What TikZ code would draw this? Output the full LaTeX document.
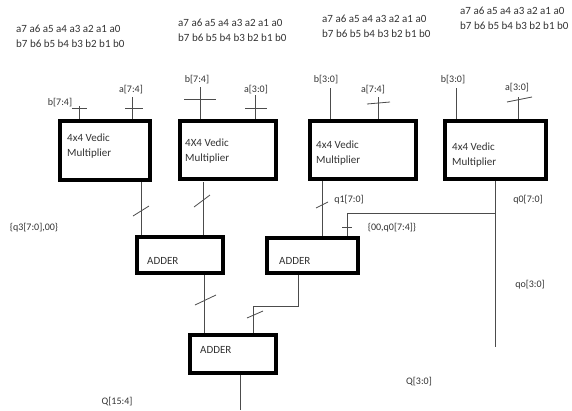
\documentclass[tikz,border=0pt]{standalone}
\usepackage{fontspec}
\setmainfont{Carlito}
\begin{document}
\begin{tikzpicture}[x=1pt,y=-1pt,
  blk/.style={draw=black, line width=3.5pt, fill=white, inner sep=0pt},
  txt/.style={text=black!80, font=\fontsize{11}{15}\selectfont, inner sep=0pt, align=left},
  lbl/.style={text=black!80, font=\fontsize{10}{12}\selectfont, inner sep=0pt},
  wire/.style={draw=black!70, line width=0.8pt},
  tick/.style={draw=black!70, line width=0.8pt}]
\useasboundingbox (0,0) rectangle (572,410);
\fill[white] (0,0) rectangle (572,410);

% top operand texts
\node[txt, anchor=west] (t1) at (16,36) {a7 a6 a5 a4 a3 a2 a1 a0\\b7 b6 b5 b4 b3 b2 b1 b0};
\node[txt, anchor=west] (t2) at (178,30) {a7 a6 a5 a4 a3 a2 a1 a0\\b7 b6 b5 b4 b3 b2 b1 b0};
\node[txt, anchor=west] (t3) at (322,26) {a7 a6 a5 a4 a3 a2 a1 a0\\b7 b6 b5 b4 b3 b2 b1 b0};
\node[txt, anchor=west] (t4) at (460,18) {a7 a6 a5 a4 a3 a2 a1 a0\\b7 b6 b5 b4 b3 b2 b1 b0};

% multipliers
\node[blk, minimum width=90pt, minimum height=59pt] (m1) at (105,150.5) {};
\node[blk, minimum width=96pt, minimum height=58pt] (m2) at (228,150) {};
\node[blk, minimum width=106pt, minimum height=58pt] (m3) at (363,150) {};
\node[blk, minimum width=101pt, minimum height=58pt] (m4) at (495.5,150) {};
\node[txt, anchor=west] (m1t) at (67,146) {4x4 Vedic\\Multiplier};
\node[txt, anchor=west] (m2t) at (185,151.5) {4X4 Vedic\\Multiplier};
\node[txt, anchor=west] (m3t) at (316,153.5) {4x4 Vedic\\Multiplier};
\node[txt, anchor=west] (m4t) at (452,155) {4x4 Vedic\\Multiplier};

% adders
\node[blk, minimum width=86pt, minimum height=36pt] (a1) at (180,255) {};
\node[blk, minimum width=91pt, minimum height=35pt] (a2) at (312.5,255.5) {};
\node[blk, minimum width=86pt, minimum height=38pt] (a3) at (233,354) {};
\node[txt, anchor=west] (a1t) at (147,261) {ADDER};
\node[txt, anchor=west] (a2t) at (279,261) {ADDER};
\node[txt, anchor=west] (a3t) at (200,350) {ADDER};

% input labels
\node[lbl] (l1b) at (60,103) {b[7:4]};
\node[lbl] (l1a) at (131,90) {a[7:4]};
\node[lbl] (l2b) at (197,80) {b[7:4]};
\node[lbl] (l2a) at (256,90) {a[3:0]};
\node[lbl] (l3b) at (326,80) {b[3:0]};
\node[lbl] (l3a) at (373,90) {a[7:4]};
\node[lbl] (l4b) at (453,80) {b[3:0]};
\node[lbl] (l4a) at (517,88) {a[3:0]};

% input wires
\coordinate (i1b) at (79,106);
\coordinate (i1a) at (132,97);
\coordinate (i2b) at (200,87);
\coordinate (i2a) at (255,95);
\coordinate (i3b) at (330,88);
\coordinate (i3a) at (378,97);
\coordinate (i4b) at (456,88);
\coordinate (i4a) at (518,97);
\draw[wire] (i1b) -- (i1b |- m1.north);
\draw[wire] (i1a) -- (i1a |- m1.north);
\draw[wire] (i2b) -- (i2b |- m2.north);
\draw[wire] (i2a) -- (i2a |- m2.north);
\draw[wire] (i3b) -- (i3b |- m3.north);
\draw[wire] (i3a) -- (i3a |- m3.north);
\draw[wire] (i4b) -- (i4b |- m4.north);
\draw[wire] (i4a) -- (i4a |- m4.north);
% ticks on input wires
\draw[tick] (72,108) -- (87,108);
\draw[tick] (125,108) -- (143,108);
\draw[tick] (184,99) -- (216,99);
\draw[tick] (245,108) -- (267,108);
\draw[tick] (367,104) -- (390,102);
\draw[tick] (507,102) -- (532,97);

% multiplier outputs
\coordinate (o1) at (141,182);
\coordinate (o2) at (203,182);
\coordinate (o3) at (322,181);
\coordinate (o4) at (495,181);
\coordinate (br) at (495,213);
\coordinate (brl) at (347,213);
\coordinate (o4end) at (495,347);
\draw[wire] (o1) -- (o1 |- a1.north);
\draw[wire] (o2) -- (o2 |- a1.north);
\draw[wire] (o3) -- (o3 |- a2.north);
\draw[wire] (o4) -- (o4end);
\draw[wire] (br) -- (brl) -- (brl |- a2.north);
\draw[tick] (133,216) -- (149,206);
\draw[tick] (194,207) -- (210,195);
\draw[tick] (316,208) -- (328,202);
\draw[tick] (342,227) -- (352,227);

% adder outputs
\coordinate (a1o) at (204,275);
\coordinate (a2o) at (298,275);
\coordinate (a2c) at (298,306);
\coordinate (a2l) at (253,306);
\coordinate (a3o) at (240,375);
\coordinate (qend) at (240,410);
\draw[wire] (a1o) -- (a1o |- a3.north);
\draw[wire] (a2o) -- (a2c) -- (a2l) -- (a2l |- a3.north);
\draw[wire] (a3o) -- (qend);
\draw[tick] (195,305) -- (216,295);
\draw[tick] (247,318) -- (263,311);

% output labels
\node[lbl] (q1l) at (349,200) {q1[7:0]};
\node[lbl] (q0l) at (528,200) {q0[7:0]};
\node[lbl] (q0h) at (392,228) {\{00,q0[7:4]\}};
\node[lbl] (q3l) at (34,228) {\{q3[7:0],00\}};
\node[lbl] (q0o) at (530,285) {qo[3:0]};
\node[lbl] (Qh) at (117,402) {Q[15:4]};
\node[lbl] (Ql) at (419,382) {Q[3:0]};
\end{tikzpicture}
\end{document}
